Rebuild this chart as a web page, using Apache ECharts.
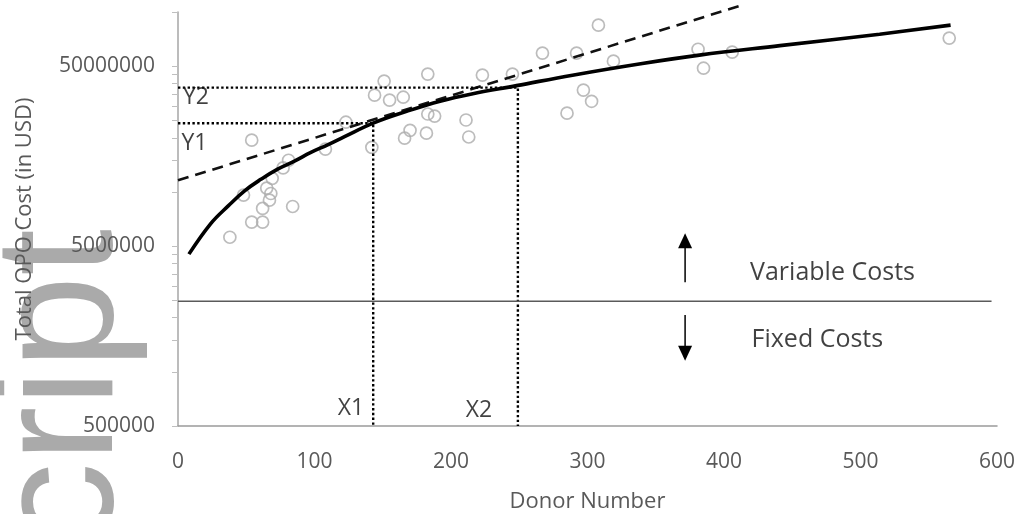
<!DOCTYPE html>
<html><head><meta charset="utf-8">
<script src="https://cdn.jsdelivr.net/npm/echarts@6/dist/echarts.min.js"></script>
<style>html,body{margin:0;padding:0;background:#fff}#c{width:1019px;height:514px}</style>
</head><body><div id="c"></div>
<script>
// ---- data (USD on a log axis, donors on a linear axis) ----
const AXIS_MIN_USD = 500000;
const AXIS_MAX_USD = 100000000;
const yTickLabels = [500000, 5000000, 50000000];
const minorMultipliers = [2, 3, 4, 5, 6, 7, 8, 9];
const xTickLabels = [0, 100, 200, 300, 400, 500, 600];

const donorNumber = [38, 54, 62, 48, 62, 67, 68, 65, 69, 77, 81, 84, 54, 108, 123, 142, 144, 151, 155, 165, 166, 170, 182, 183, 188, 183, 211, 213, 223, 245, 267, 285, 292, 297, 303, 308, 319, 381, 385, 406, 565];
const totalCost = [5600000, 6800000, 6800000, 9600000, 8100000, 9000000, 9800000, 10500000, 11900000, 13600000, 15000000, 8300000, 19400000, 17300000, 24400000, 17700000, 34500000, 41300000, 32400000, 33600000, 19900000, 22000000, 21200000, 27100000, 26400000, 45200000, 25100000, 20200000, 44600000, 45200000, 59100000, 27400000, 59100000, 36800000, 31900000, 84500000, 53300000, 62100000, 48700000, 59800000, 71600000];

const logFitX = [8, 24, 37, 49, 61, 73, 86, 97, 110, 122, 143, 168, 192, 216, 248, 289, 339, 382, 441, 514, 566];
const logFitY = [4510000, 6670000, 8390000, 10170000, 11780000, 13390000, 14930000, 16530000, 18320000, 20290000, 24120000, 28120000, 31950000, 35170000, 38970000, 44560000, 51600000, 57600000, 65000000, 75300000, 84500000];

const linFitX = [0, 413];
const linFitY = [11600000, 109000000];

const X1 = 143, Y1 = 24100000;
const X2 = 249, Y2 = 38000000;
const fixedVariableSplitUSD = 2470000;
const splitLineX = [0, 596];

const arrowX = 371.5;
const upArrowY = [3150000, 5360000];
const downArrowY = [2070000, 1270000];

const annotations = [
  { text: 'Variable Costs', x: 479.5, y: 3540000, size: 25 },
  { text: 'Fixed Costs', x: 468.4, y: 1500000, size: 25 },
  { text: 'X1', x: 126.7, y: 629000, size: 23 },
  { text: 'X2', x: 220.5, y: 613000, size: 23 },
  { text: 'Y1', x: 12.1, y: 18700000, size: 23 },
  { text: 'Y2', x: 13.2, y: 33600000, size: 23 }
];

// ---- helpers: log10 position relative to the axis minimum ----
const L = v => Math.log10(v / AXIS_MIN_USD);
const yMax = L(AXIS_MAX_USD);
const majorPos = yTickLabels.map(L);
const tickPos = [];
[AXIS_MIN_USD, AXIS_MIN_USD * 10, AXIS_MIN_USD * 100].forEach(b => {
  tickPos.push(L(b));
  minorMultipliers.forEach(m => { const v = b * m; if (v <= AXIS_MAX_USD * 1.0001) tickPos.push(L(v)); });
});

const FONT = '"Open Sans", "Noto Sans", sans-serif';
const chart = echarts.init(document.getElementById('c'), null, { renderer: 'canvas' });

chart.setOption({
  animation: false,
  backgroundColor: '#ffffff',
  grid: { left: 178, right: 22, top: 12, bottom: 88, containLabel: false, outerBoundsMode: 'none' },
  graphic: {
    elements: [{
      type: 'text', x: 150, y: 229, rotation: Math.PI / 2, z: -10, silent: true,
      style: { text: 'script', font: 'normal 168px "Liberation Sans", Arial, sans-serif', fill: '#aaaaaa', align: 'right', verticalAlign: 'bottom' }
    }]
  },
  xAxis: {
    type: 'value', min: xTickLabels[0], max: xTickLabels[xTickLabels.length - 1], interval: 100,
    name: 'Donor Number', nameLocation: 'middle', nameGap: 65,
    nameTextStyle: { fontFamily: FONT, fontSize: 22, color: '#595959' },
    axisLine: { show: true, lineStyle: { color: '#9a9a9a', width: 1.5 } },
    axisTick: { show: false },
    splitLine: { show: false },
    axisLabel: { fontFamily: FONT, fontSize: 21, color: '#595959', margin: 26 }
  },
  yAxis: {
    type: 'value', min: 0, max: yMax, interval: 1,
    name: 'Total OPO Cost (in USD)', nameLocation: 'middle', nameGap: 142,
    nameTextStyle: { fontFamily: FONT, fontSize: 22, color: '#595959' },
    axisLine: { show: true, lineStyle: { color: '#a6a6a6', width: 1.5 } },
    axisTick: { show: true, length: 6, lineStyle: { color: '#bfbfbf', width: 1 }, customValues: tickPos },
    splitLine: { show: false },
    axisLabel: {
      fontFamily: FONT, fontSize: 21, color: '#595959', margin: 23, padding: [9, 0, 0, 0],
      customValues: majorPos,
      formatter: v => String(Math.round(AXIS_MIN_USD * Math.pow(10, v)))
    }
  },
  series: [
    {
      name: 'OPOs', type: 'scatter', symbol: 'circle', symbolSize: 12, z: 2,
      itemStyle: { color: 'rgba(255,255,255,0)', borderColor: '#ababab', borderWidth: 1.7 },
      data: donorNumber.map((x, i) => [x, L(totalCost[i])])
    },
    {
      name: 'Log fit', type: 'line', smooth: 0.4, symbol: 'none', z: 4,
      lineStyle: { color: '#000', width: 3.6 },
      data: logFitX.map((x, i) => [x, L(logFitY[i])])
    },
    {
      name: 'Linear fit', type: 'line', symbol: 'none', clip: false, z: 3,
      lineStyle: { color: '#111', width: 2.6, type: [11, 7] },
      data: linFitX.map((x, i) => [x, L(linFitY[i])])
    },
    {
      name: 'X1Y1', type: 'line', symbol: 'none', z: 3,
      lineStyle: { color: '#000', width: 2.4, type: [2.4, 2.4] },
      data: [[0, L(Y1)], [X1, L(Y1)], [X1, 0]]
    },
    {
      name: 'X2Y2', type: 'line', symbol: 'none', z: 3,
      lineStyle: { color: '#000', width: 2.4, type: [2.4, 2.4] },
      data: [[0, L(Y2)], [X2, L(Y2)], [X2, 0]]
    },
    {
      name: 'Split', type: 'line', symbol: 'none', z: 3,
      lineStyle: { color: '#5a5a5a', width: 1.5 },
      data: splitLineX.map(x => [x, L(fixedVariableSplitUSD)])
    },
    {
      name: 'Up arrow', type: 'line', z: 3, showSymbol: true,
      lineStyle: { color: '#000', width: 1.5 }, itemStyle: { color: '#000' },
      data: [
        { value: [arrowX, L(upArrowY[0])], symbol: 'none' },
        { value: [arrowX, L(upArrowY[1])], symbol: 'triangle', symbolSize: [14, 15] }
      ]
    },
    {
      name: 'Down arrow', type: 'line', z: 3, showSymbol: true,
      lineStyle: { color: '#000', width: 1.5 }, itemStyle: { color: '#000' },
      data: [
        { value: [arrowX, L(downArrowY[0])], symbol: 'none' },
        { value: [arrowX, L(downArrowY[1])], symbol: 'triangle', symbolSize: [14, 15], symbolRotate: 180 }
      ]
    },
    {
      name: 'Labels', type: 'scatter', symbolSize: 1, z: 5,
      itemStyle: { color: 'rgba(0,0,0,0)' },
      label: { show: true, position: 'inside', color: '#111', fontFamily: FONT },
      data: annotations.map(a => ({ value: [a.x, L(a.y)], label: { formatter: a.text, fontSize: a.size } }))
    }
  ]
});
</script></body></html>
